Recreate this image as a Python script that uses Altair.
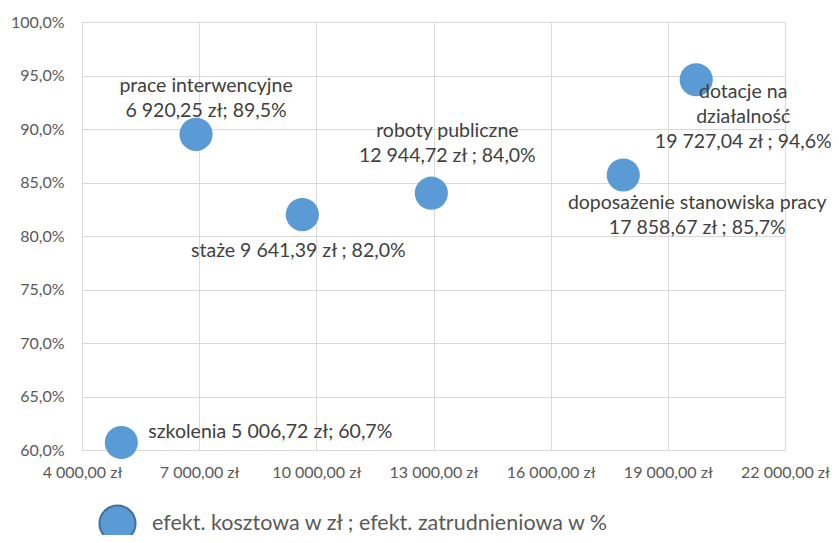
import altair as alt
import pandas as pd

categories = ["szkolenia", "prace interwencyjne", "staże", "roboty publiczne",
              "doposażenie stanowiska pracy", "dotacje na działalność"]
cost = [5006.72, 6920.25, 9641.39, 12944.72, 17858.67, 19727.04]
eff = [60.7, 89.5, 82.0, 84.0, 85.7, 94.6]
labels = [
    "szkolenia 5 006,72 zł; 60,7%",
    "prace interwencyjne\n6 920,25 zł; 89,5%",
    "staże  9 641,39 zł ; 82,0%",
    "roboty publiczne\n12 944,72 zł ; 84,0%",
    "doposażenie stanowiska pracy\n17 858,67 zł ; 85,7%",
    "dotacje na\ndziałalność\n19 727,04 zł ; 94,6%",
]
series_name = "efekt. kosztowa w zł ; efekt. zatrudnieniowa w %"
x_ticks = [4000, 7000, 10000, 13000, 16000, 19000, 22000]
y_ticks = [60, 65, 70, 75, 80, 85, 90, 95, 100]

df = pd.DataFrame({"cat": categories, "cost": cost, "eff": eff,
                   "label": labels, "series": series_name})

FONT = "Lato"
TXT = "#404040"

x = alt.X("cost:Q", scale=alt.Scale(domain=[4000, 22000], nice=False),
          axis=alt.Axis(values=x_ticks, title=None, grid=True, gridColor="#D9D9D9",
                        domain=True, domainColor="#D9D9D9", ticks=False,
                        labelOverlap=False, labelBound=False, labelFlush=False,
                        labelPadding=14, labelFont=FONT, labelFontSize=16,
                        labelColor="#595959",
                        labelExpr="replace(replace(format(datum.value, ',.2f'), ',', ' '), '.', ',') + ' zł'"))
y = alt.Y("eff:Q", scale=alt.Scale(domain=[60, 100], nice=False, zero=False),
          axis=alt.Axis(values=y_ticks, title=None, grid=True, gridColor="#D9D9D9",
                        domain=False, ticks=False, labelPadding=18, labelFont=FONT,
                        labelOverlap=False, labelFontSize=16, labelColor="#595959",
                        labelExpr="replace(format(datum.value, '.1f'), '.', ',') + '%'"))

points = alt.Chart(df).mark_point(filled=True, opacity=1, size=1100).encode(
    x=x, y=y,
    color=alt.Color("series:N", scale=alt.Scale(range=["#5B9BD5"]),
                    legend=alt.Legend(title=None, orient="none", legendX=16, legendY=482,
                                      symbolSize=1300, symbolType="circle",
                                      symbolStrokeColor="#41719C", symbolStrokeWidth=2,
                                      symbolFillColor="#5B9BD5",
                                      labelFont=FONT, labelFontSize=21.5, labelColor="#595959",
                                      labelOffset=15, labelLimit=0)),
)

offsets = [
    (27, -11, "left"),
    (10, -48, "center"),
    (-4, 36, "center"),
    (16, -62, "center"),
    (74, 28, "center"),
    (47, 12, "center"),
]

layers = [points]
for i, (dx, dy, al) in enumerate(offsets):
    layers.append(
        alt.Chart(df.iloc[[i]]).mark_text(
            font=FONT, fontSize=19.5, color=TXT, dx=dx, dy=dy, align=al,
            baseline="middle", lineBreak="\n", lineHeight=25,
        ).encode(x=alt.X("cost:Q"), y=alt.Y("eff:Q"), text="label:N")
    )

chart = alt.layer(*layers).properties(
    width=703, height=428,
    autosize=alt.AutoSizeParams(type="none"),
    padding={"left": 74, "top": 14, "right": 46, "bottom": 85},
).configure_view(stroke=None).configure(background="white")

chart.save("out.html", embed_options={"renderer": "svg", "actions": False})
